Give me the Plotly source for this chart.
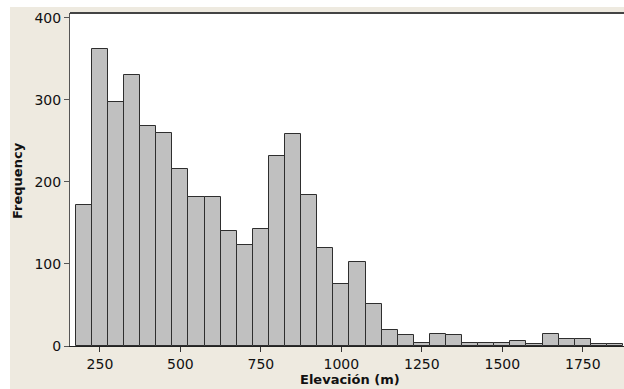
import plotly.graph_objects as go

# Data
bin_centers = [200, 250, 300, 350, 400, 450, 500, 550, 600, 650, 700, 750, 800, 850,
               900, 950, 1000, 1050, 1100, 1150, 1200, 1250, 1300, 1350, 1400, 1450,
               1500, 1550, 1600, 1650, 1700, 1750, 1800, 1850]
frequencies = [172, 362, 298, 330, 268, 260, 216, 182, 182, 140, 123, 143, 232, 258,
               184, 119, 75, 103, 51, 19, 13, 4, 15, 13, 4, 4,
               4, 6, 3, 15, 9, 8, 2, 2]
bin_width = 50
x_ticks = [250, 500, 750, 1000, 1250, 1500, 1750]
y_ticks = [0, 100, 200, 300, 400]
x_title = "Elevación (m)"
y_title = "Frequency"

BEIGE = "#EEEAE0"
FONT = "DejaVu Sans"

fig = go.Figure()
fig.add_trace(go.Bar(
    x=bin_centers, y=frequencies, width=[bin_width] * len(bin_centers),
    marker=dict(color="#C0C0C0", line=dict(color="#2E2E2E", width=1)),
    hoverinfo="x+y",
))

fig.update_layout(
    width=624, height=389,
    margin=dict(l=70, r=0, t=13, b=43),
    paper_bgcolor="white",
    plot_bgcolor="white",
    showlegend=False,
    bargap=0,
    font=dict(family=FONT, size=14, color="#111111"),
    xaxis=dict(
        range=[157, 1878], tickvals=x_ticks, ticks="outside", ticklen=5,
        tickcolor="#333333", showline=True, linecolor="#222222", linewidth=1,
        showgrid=False, zeroline=False,
        tickfont=dict(family=FONT, size=14, color="#111111"),
    ),
    yaxis=dict(
        range=[0, 406], tickvals=y_ticks, ticks="outside", ticklen=5,
        tickcolor="#555555", showline=True, linecolor="#555555", linewidth=1,
        showgrid=False, zeroline=False,
        tickfont=dict(family=FONT, size=14, color="#111111"),
    ),
    shapes=[
        dict(type="rect", xref="paper", yref="paper", x0=-0.1083, x1=1.05,
             y0=-0.2, y1=1.018, fillcolor=BEIGE, line=dict(width=0), layer="below"),
        dict(type="rect", xref="paper", yref="paper", x0=0, x1=1.05,
             y0=0, y1=1, fillcolor="white", line=dict(width=0), layer="below"),
        dict(type="line", xref="paper", yref="paper", x0=0, x1=1.05,
             y0=1, y1=1, line=dict(color="#444444", width=2), layer="above"),
    ],
    annotations=[
        dict(text="<b>" + y_title + "</b>", xref="paper", yref="paper",
             x=-0.0939, y=0.4985, xanchor="center", yanchor="middle",
             textangle=-90, showarrow=False,
             font=dict(family=FONT, size=13, color="#111111")),
        dict(text="<b>" + x_title + "</b>", xref="paper", yref="paper",
             x=0.5054, y=-0.1021, xanchor="center", yanchor="middle",
             showarrow=False,
             font=dict(family=FONT, size=13, color="#111111")),
    ],
)

fig.write_html("out.html")
